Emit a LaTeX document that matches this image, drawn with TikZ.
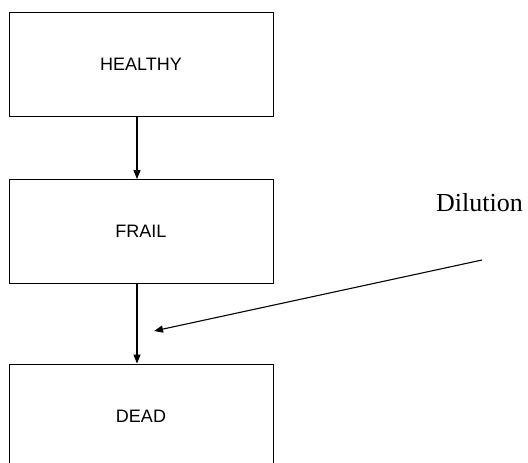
\documentclass[tikz,border=0pt]{standalone}
\usepackage{fontspec}
\setmainfont{Liberation Serif}
\setsansfont{Liberation Sans}
\usetikzlibrary{arrows.meta, positioning}

\tikzset{
    statebox/.style={draw, line width=0.9pt, minimum width=264pt, minimum height=104pt, inner sep=0pt, font=\sffamily\fontsize{18}{21}\selectfont},
    arr/.style={line width=1.1pt, -{Triangle[length=9pt,width=7pt]}}
}

\begin{document}
\begin{tikzpicture}[x=1pt, y=-1pt]

            % Khung hình
            \clip (0,0) rectangle (528,463);
            \useasboundingbox (0,0) rectangle (528,463);

            % Các ô trạng thái
            \node[statebox] (healthy) at (141,64) {HEALTHY};
            \node[statebox] (frail) at (141,231.5) {FRAIL};
            \node[statebox] (dead) at (141,416) {DEAD};

            % Mũi tên dọc
            \draw[arr] ([xshift=-4pt]healthy.south) -- ([xshift=-4pt]frail.north);
            \draw[arr] ([xshift=-4pt]frail.south) -- ([xshift=-4pt]dead.north);

            % Nhãn Dilution
            \node[font=\fontsize{26}{30}\selectfont] (dilution) at (479.5,203) {Dilution};
            \coordinate (dstart) at (482,260);
            \coordinate (dend) at (154,331);
            \draw[arr] (dstart) -- (dend);

            \end{tikzpicture}
\end{document}
